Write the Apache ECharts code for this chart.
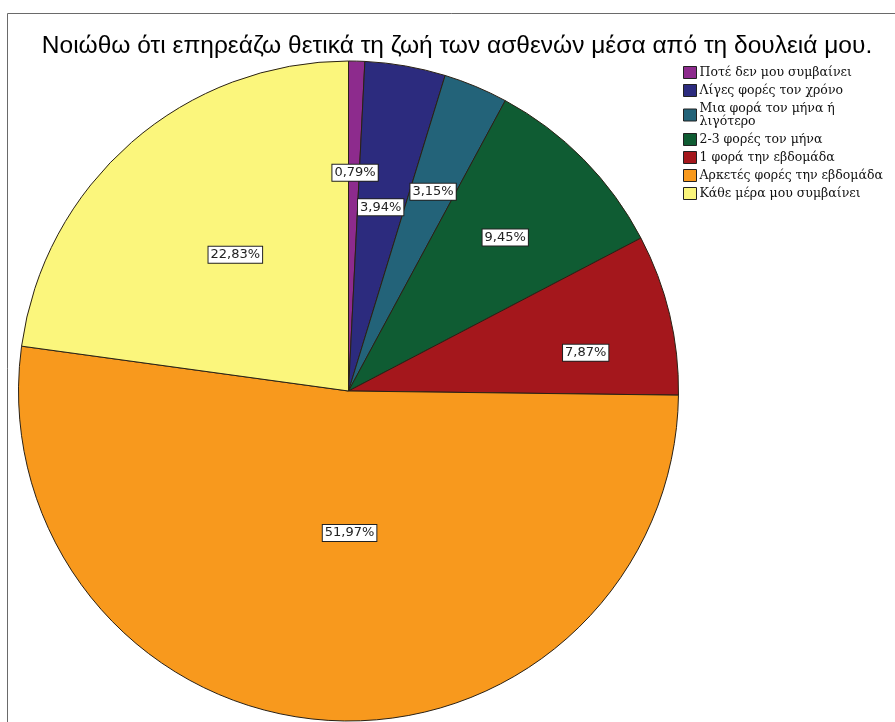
<!DOCTYPE html>
<html>
<head>
<meta charset="utf-8">
<script src="https://cdn.jsdelivr.net/npm/echarts@6/dist/echarts.min.js"></script>
<style>
  html, body { margin: 0; padding: 0; background: #ffffff; }
  #chart { width: 895px; height: 722px; }
</style>
</head>
<body>
<div id="chart"></div>
<script>
// Answer categories (legend order, clockwise from 12 o'clock)
const categories = [
  'Ποτέ δεν μου συμβαίνει',
  'Λίγες φορές τον χρόνο',
  'Μια φορά τον μήνα ή λιγότερο',
  '2-3 φορές τον μήνα',
  '1 φορά την εβδομάδα',
  'Αρκετές φορές την εβδομάδα',
  'Κάθε μέρα μου συμβαίνει'
];
// Share of respondents, percent
const percentages = [0.79, 3.94, 3.15, 9.45, 7.87, 51.97, 22.83];

const titleText = 'Νοιώθω ότι επηρεάζω θετικά τη ζωή των ασθενών μέσα από τη δουλειά μου.';

// Styling
const sliceColors = ['#8d2b8d', '#2c2b7e', '#236379', '#0f5c33', '#a4171c', '#f8991d', '#fbf67c'];
// Value-label placement: distance from centre as a fraction of the radius,
// and a small angular nudge (degrees, clockwise) away from the slice midline
const labelRadiusFraction = [0.662, 0.565, 0.656, 0.665, 0.728, 0.43, 0.537];
const labelAngleNudge = [0.3, 0, 0.3, 0.2, 4.3, -4.7, 1.4];
const pieCenter = [348.5, 391];
const pieRadius = 330;

const chart = echarts.init(document.getElementById('chart'), null, { renderer: 'canvas' });

const option = {
  backgroundColor: '#ffffff',
  animation: false,
  title: {
    text: titleText,
    left: 452,
    textAlign: 'center',
    top: 29,
    textStyle: {
      fontFamily: '"Liberation Sans", Arial, sans-serif',
      fontSize: 24.5,
      fontWeight: 'normal',
      color: '#000000'
    }
  },
  graphic: [{
    type: 'rect',
    z: -10,
    silent: true,
    shape: { x: 7.5, y: 13.5, width: 1000, height: 1000 },
    style: { fill: 'none', stroke: '#6a6a6a', lineWidth: 1 }
  }],
  legend: {
    orient: 'vertical',
    left: 678,
    top: 61,
    itemWidth: 13,
    itemHeight: 12,
    itemGap: 5,
    icon: 'rect',
    selectedMode: false,
    data: categories,
    itemStyle: { borderColor: '#222222', borderWidth: 1 },
    formatter: function (name) {
      return name.replace('ή λιγότερο', 'ή\nλιγότερο');
    },
    textStyle: {
      fontFamily: '"DejaVu Serif", "Liberation Serif", serif',
      fontSize: 12.5,
      lineHeight: 13,
      color: '#111111',
      padding: [0, 0, 0, -2]
    }
  },
  series: [{
    type: 'pie',
    center: pieCenter,
    radius: [0, pieRadius],
    startAngle: 90,
    clockwise: true,
    avoidLabelOverlap: false,
    data: categories.map(function (name, i) {
      return { name: name, value: percentages[i], itemStyle: { color: sliceColors[i] } };
    }),
    itemStyle: { borderColor: '#2a2115', borderWidth: 1 },
    label: {
      show: true,
      position: 'inside',
      formatter: function (p) {
        return p.value.toFixed(2).replace('.', ',') + '%';
      },
      fontFamily: '"DejaVu Sans", Verdana, sans-serif',
      fontSize: 13,
      color: '#222222',
      backgroundColor: '#ffffff',
      borderColor: '#222222',
      borderWidth: 1,
      padding: [2, 2, 1, 2]
    },
    labelLine: { show: false },
    emphasis: { disabled: true },
    labelLayout: function (params) {
      // Move each label along (and slightly around) its slice's midline
      const r = params.labelRect;
      const lx = r.x + r.width / 2;
      const ly = r.y + r.height / 2;
      const i = params.dataIndex;
      const theta = Math.atan2(lx - pieCenter[0], pieCenter[1] - ly) + labelAngleNudge[i] * Math.PI / 180;
      const dist = labelRadiusFraction[i] * pieRadius;
      return {
        x: pieCenter[0] + dist * Math.sin(theta),
        y: pieCenter[1] - dist * Math.cos(theta)
      };
    }
  }]
};

chart.setOption(option);
</script>
</body>
</html>
